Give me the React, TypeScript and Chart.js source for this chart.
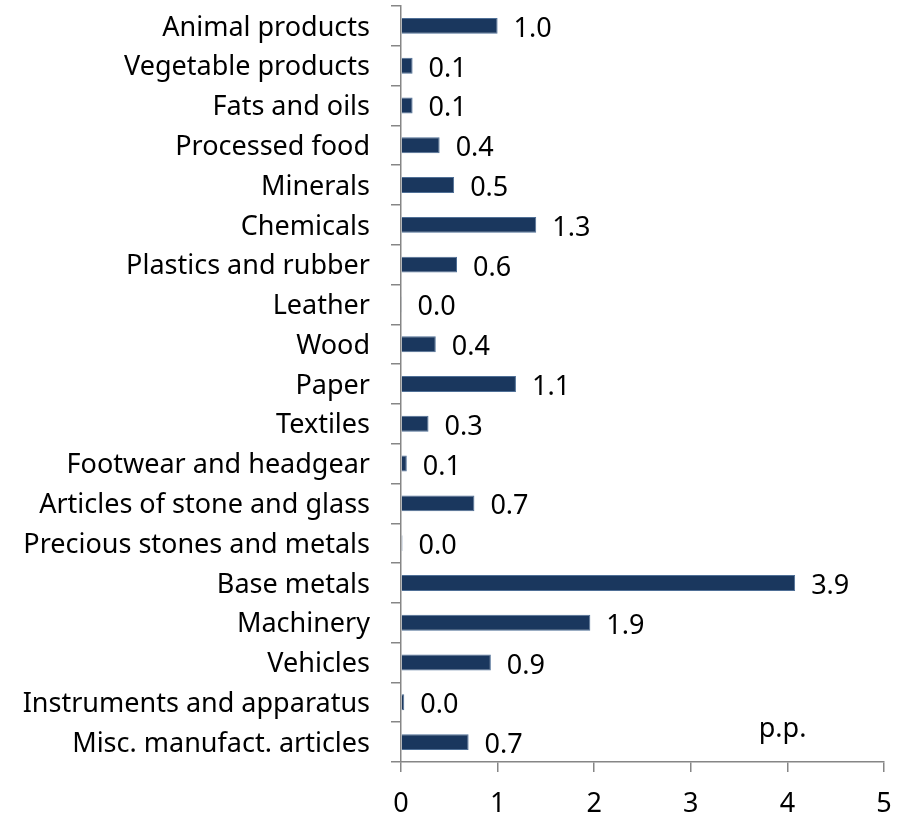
import React, { useEffect, useRef } from "react";
import { Chart, registerables } from "chart.js";

Chart.register(...registerables);

const categories = [
  "Animal products",
  "Vegetable products",
  "Fats and oils",
  "Processed food",
  "Minerals",
  "Chemicals",
  "Plastics and rubber",
  "Leather",
  "Wood",
  "Paper",
  "Textiles",
  "Footwear and headgear",
  "Articles of stone and glass",
  "Precious stones and metals",
  "Base metals",
  "Machinery",
  "Vehicles",
  "Instruments and apparatus",
  "Misc. manufact. articles",
];

const barValues = [1.0, 0.12, 0.12, 0.4, 0.55, 1.4, 0.58, 0.005, 0.36, 1.19, 0.285, 0.06, 0.76, 0.015, 4.08, 1.96, 0.93, 0.034, 0.7];
const valueLabels = ["1.0", "0.1", "0.1", "0.4", "0.5", "1.3", "0.6", "0.0", "0.4", "1.1", "0.3", "0.1", "0.7", "0.0", "3.9", "1.9", "0.9", "0.0", "0.7"];
const xTicks = [0, 1, 2, 3, 4, 5];
const unitLabel = "p.p.";

const FONT = "'Noto Sans'";
const FONT_SIZE = 27;
const VALUE_FONT_SIZE = 27;

export default function App() {
  const ref = useRef<HTMLCanvasElement>(null);
  useEffect(() => {
    document.body.style.margin = "0";
    const valueLabelPlugin = {
      id: "valueLabels",
      afterDatasetsDraw(chart: any) {
        const ctx = chart.ctx;
        const meta = chart.getDatasetMeta(0);
        ctx.save();
        ctx.font = `${VALUE_FONT_SIZE}px ${FONT}`;
        ctx.fillStyle = "#000";
        ctx.textAlign = "left";
        ctx.textBaseline = "alphabetic";
        meta.data.forEach((el: any, i: number) => {
          ctx.fillText(valueLabels[i], el.x + 16, el.y + 11);
        });
        const xs = chart.scales.x;
        const ys = chart.scales.y;
        ctx.textAlign = "center";
        ctx.fillText(unitLabel, xs.getPixelForValue(3.95), ys.getPixelForValue(categories.length - 1) - 5);
        ctx.restore();
      },
    };
    const chart = new Chart(ref.current!, {
      type: "bar",
      data: {
        labels: categories,
        datasets: [
          {
            data: barValues,
            backgroundColor: "#1a375e",
            borderColor: "#4f6f96",
            borderWidth: 1,
            barPercentage: 0.4,
            categoryPercentage: 1.0,
          },
        ],
      },
      options: {
        indexAxis: "y",
        animation: false,
        responsive: false,
        events: [],
        layout: { padding: { top: 6, right: 36, left: 0, bottom: 0 } },
        plugins: { legend: { display: false }, tooltip: { enabled: false } },
        scales: {
          x: {
            min: 0,
            max: 5,
            afterFit(s: any) {
              s.height = 56;
              s.paddingLeft = 0;
              s.paddingRight = 0;
            },
            afterBuildTicks(s: any) {
              s.ticks = xTicks.map((v) => ({ value: v }));
            },
            border: { display: true, color: "#868686", width: 1.5 },
            grid: { display: true, drawOnChartArea: false, drawTicks: true, tickLength: 10, color: "#868686", lineWidth: 1.5 },
            ticks: { color: "#000", font: { family: FONT, size: FONT_SIZE }, padding: 16 },
          },
          y: {
            afterFit(s: any) {
              s.width = 401;
              s.paddingTop = 0;
              s.paddingBottom = 0;
            },
            border: { display: true, color: "#868686", width: 1.5 },
            grid: { display: true, drawOnChartArea: false, drawTicks: true, tickLength: 10, color: "#868686", lineWidth: 1.5, offset: true },
            ticks: { color: "#000", font: { family: FONT, size: FONT_SIZE }, padding: 21, autoSkip: false, labelOffset: 2 },
          },
        },
      },
      plugins: [valueLabelPlugin],
    });
    return () => chart.destroy();
  }, []);
  return (
    <div style={{ position: "relative", width: 920, height: 818 }}>
      <canvas ref={ref} width={920} height={818} style={{ display: "block" }} />
    </div>
  );
}
